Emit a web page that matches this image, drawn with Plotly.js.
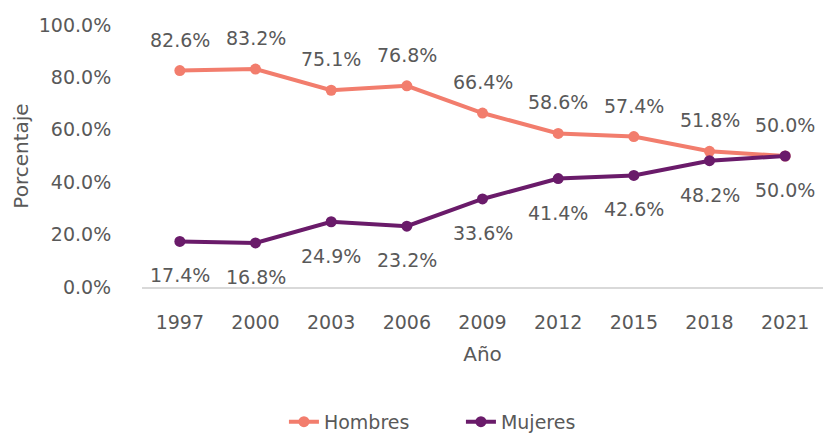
<!DOCTYPE html>
<html>
<head>
<meta charset="utf-8">
<script src="https://cdn.plot.ly/plotly-3.0.1.min.js"></script>
<style>html,body{margin:0;padding:0;background:#fff;}#chart{width:823px;height:434px;}</style>
</head>
<body>
<div id="chart"></div>
<script>
const years = ['1997','2000','2003','2006','2009','2012','2015','2018','2021'];
const hombres = [82.6, 83.2, 75.1, 76.8, 66.4, 58.6, 57.4, 51.8, 50.0];
const mujeres = [17.4, 16.8, 24.9, 23.2, 33.6, 41.4, 42.6, 48.2, 50.0];
const yTicks = [0, 20, 40, 60, 80, 100];

const FONT = 'DejaVu Sans, sans-serif';
const TXT = '#595959';
const cH = '#F27D6D';
const cM = '#6A1B6A';

const annotations = [];
years.forEach((yr, i) => {
  annotations.push({xref: 'x', yref: 'y', x: i, y: hombres[i], text: hombres[i].toFixed(1) + '%', showarrow: false,
    yshift: 31, font: {family: FONT, size: 19, color: TXT}});
  annotations.push({xref: 'x', yref: 'y', x: i, y: mujeres[i], text: mujeres[i].toFixed(1) + '%', showarrow: false,
    yshift: -34, font: {family: FONT, size: 19, color: TXT}});
});

const traces = [
  {x: years, y: hombres, name: 'Hombres', type: 'scatter', mode: 'lines+markers',
   line: {color: cH, width: 4}, marker: {color: cH, size: 11}},
  {x: years, y: mujeres, name: 'Mujeres', type: 'scatter', mode: 'lines+markers',
   line: {color: cM, width: 4}, marker: {color: cM, size: 11}}
];

const layout = {
  width: 823, height: 434,
  margin: {l: 142, r: 0, t: 25, b: 147, autoexpand: false},
  paper_bgcolor: '#fff', plot_bgcolor: '#fff',
  font: {family: FONT, size: 19, color: TXT},
  showlegend: true,
  legend: {orientation: 'h', x: 0.345, xanchor: 'left', xref: 'container',
    y: 0.028, yanchor: 'middle', yref: 'container', entrywidth: 132,
    font: {family: FONT, size: 19, color: TXT}, tracegroupgap: 0},
  xaxis: {type: 'category', range: [-0.5, 8.5], showgrid: false, zeroline: false,
    showline: true, linecolor: '#d9d9d9', linewidth: 1.5, automargin: false,
    ticks: 'outside', ticklen: 18, tickcolor: 'rgba(0,0,0,0)',
    tickfont: {family: FONT, size: 19, color: TXT},
    title: {text: 'Año', font: {family: FONT, size: 20, color: TXT}, standoff: 14}},
  yaxis: {range: [0, 100], tickvals: yTicks, ticktext: yTicks.map(v => v.toFixed(1) + '%'),
    showgrid: false, zeroline: false, showline: false, automargin: false,
    ticks: 'outside', ticklen: 26, tickcolor: 'rgba(0,0,0,0)',
    tickfont: {family: FONT, size: 19, color: TXT},
    title: {text: 'Porcentaje', font: {family: FONT, size: 20, color: TXT}, standoff: 4}},
  annotations: annotations
};

Plotly.newPlot('chart', traces, layout, {displayModeBar: false, staticPlot: true});
</script>
</body>
</html>
